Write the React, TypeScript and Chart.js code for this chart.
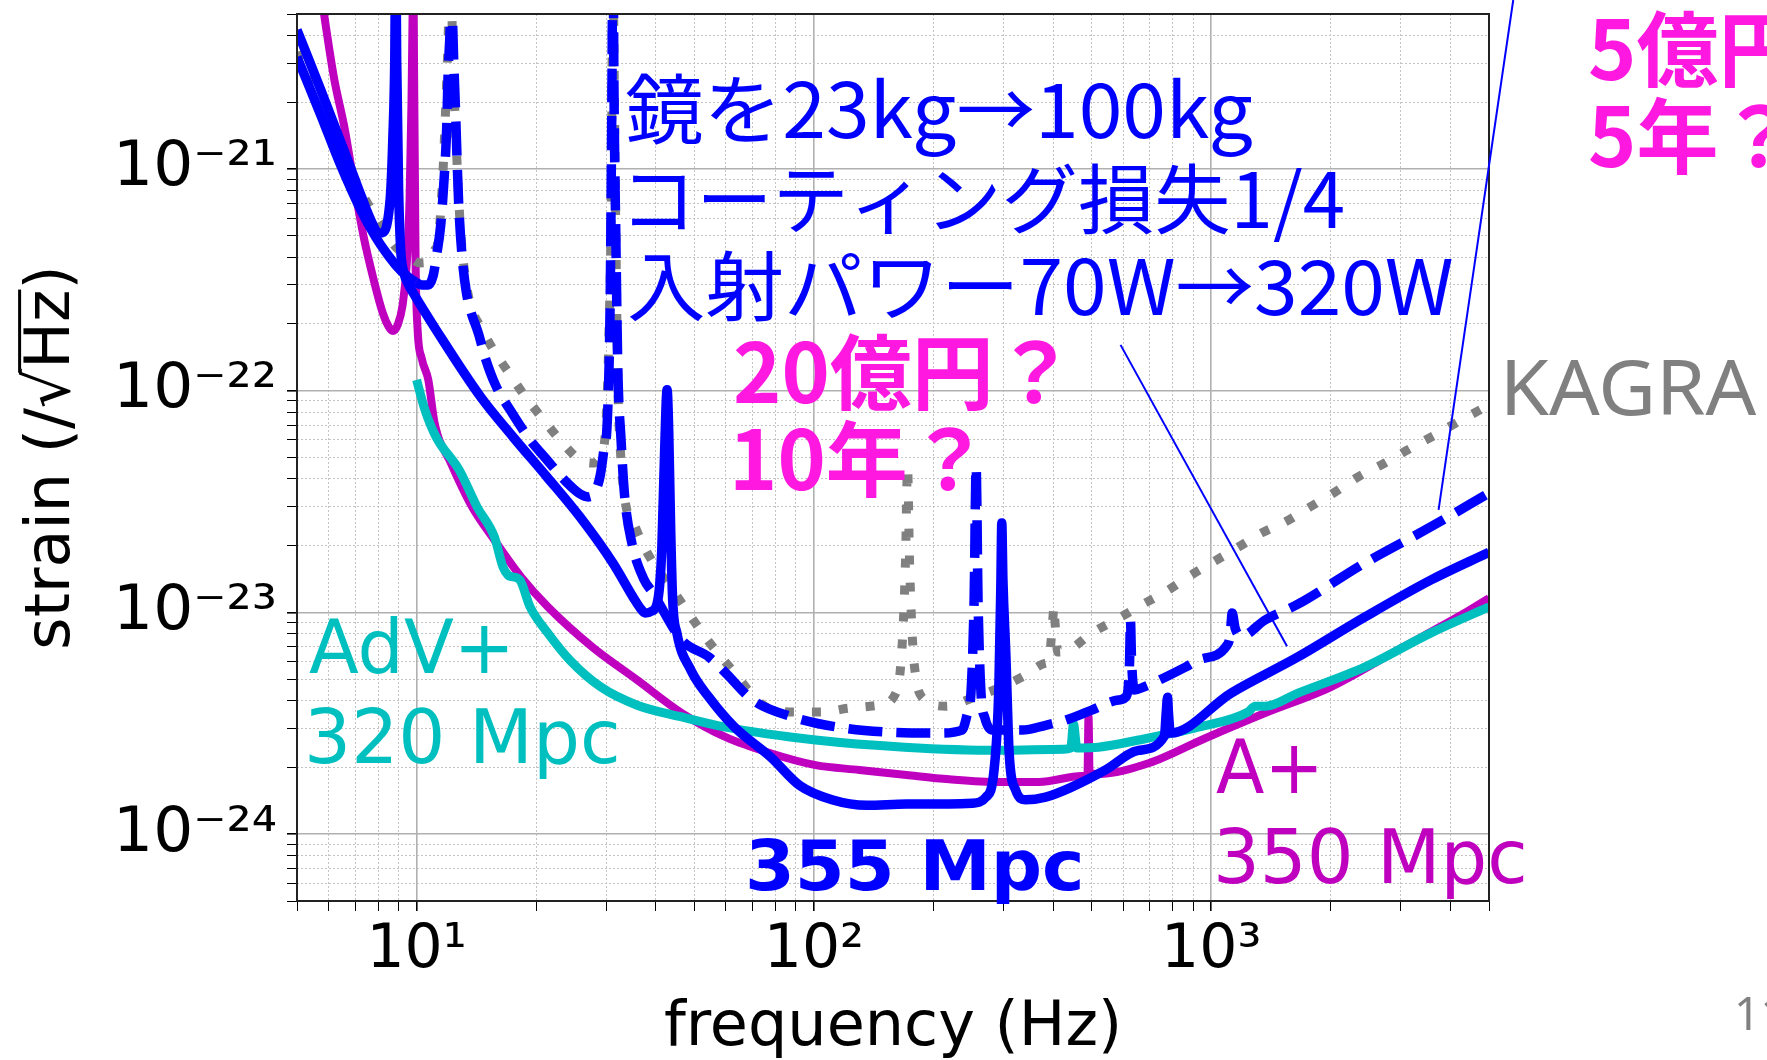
import React, { useEffect, useRef } from 'react';
import { Chart, registerables } from 'chart.js';

Chart.register(...registerables);

// ---------- axes ----------
const X_MIN = 5;
const X_MAX = 5000;
const Y_MIN = 5e-25;
const Y_MAX = 5e-21;
const X_MAJOR = [10, 100, 1000];
const X_LABELS = ['10¹', '10²', '10³'];
const Y_MAJOR = [1e-24, 1e-23, 1e-22, 1e-21];
const Y_LABELS = ['10⁻²⁴', '10⁻²³', '10⁻²²', '10⁻²¹'];

// ---------- series: [frequency (Hz), strain (/rtHz)] ----------
const APLUS: [number, number][] = [
  [5.68, 7.1e-21], [6.19, 2.6e-21], [6.6, 1.5e-21], [6.95, 8.65e-22], [7.36, 4.93e-22], [7.8, 3.16e-22],
  [8.22, 2.24e-22], [8.51, 1.94e-22], [8.71, 1.86e-22], [8.96, 1.98e-22], [9.22, 2.43e-22], [9.44, 3.69e-22],
  [9.6, 7.24e-22], [9.71, 2.05e-21], [9.77, 5.0e-21], [9.8, 1e-20], [9.83, 5.0e-21], [9.89, 1.22e-21],
  [9.94, 3.89e-22], [10.06, 1.88e-22], [10.3, 1.4e-22], [10.7, 1.12e-22], [11.1, 7.15e-23], [12.2, 4.72e-23],
  [13.8, 2.99e-23], [15.7, 2.12e-23], [18.3, 1.45e-23], [21.4, 1.06e-23], [27.7, 6.98e-24], [35.9, 4.96e-24],
  [46.5, 3.52e-24], [60.0, 2.74e-24], [77.8, 2.32e-24], [101, 2.05e-24], [130, 1.95e-24], [171, 1.85e-24],
  [219, 1.77e-24], [292, 1.72e-24], [368, 1.72e-24], [472, 1.83e-24], [488, 1.86e-24], [491, 3.4e-24],
  [494, 1.88e-24], [520, 1.87e-24], [695, 2.09e-24], [966, 2.71e-24], [1366, 3.52e-24], [2000, 4.61e-24],
  [2946, 6.77e-24], [4342, 9.94e-24], [5000, 1.16e-23],
];

const ADVPLUS: [number, number][] = [
  [10.0, 1.12e-22], [10.5, 8.18e-23], [11.2, 6.18e-23], [12.8, 4.39e-23], [14.2, 2.99e-23], [15.7, 2.19e-23],
  [16.5, 1.6e-23], [17.0, 1.47e-23], [17.4, 1.45e-23], [18.2, 1.4e-23], [19.3, 1.06e-23], [21.4, 8.07e-24],
  [24.3, 6.1e-24], [29.1, 4.61e-24], [35.9, 3.82e-24], [46.5, 3.38e-24], [60.0, 3.04e-24], [101, 2.66e-24],
  [169, 2.47e-24], [292, 2.39e-24], [425, 2.42e-24], [443, 2.45e-24], [450, 3.14e-24], [459, 2.45e-24],
  [520, 2.47e-24], [656, 2.66e-24], [927, 3.04e-24], [1238, 3.56e-24], [1289, 3.78e-24], [1366, 3.78e-24],
  [1652, 4.33e-24], [2432, 5.67e-24], [3565, 8.07e-24], [5000, 1.06e-23],
];

const KAGRA: [number, number][] = [
  [5.0, 3.37e-21], [5.74, 1.95e-21], [6.44, 1.18e-21], [6.9, 9.4e-22], [7.45, 7.24e-22], [8.13, 5.59e-22],
  [8.86, 4.45e-22], [9.66, 3.97e-22], [10.2, 3.77e-22], [10.7, 3.81e-22], [11.1, 4.31e-22], [11.3, 4.63e-22],
  [11.6, 8.29e-22], [11.8, 1.66e-21], [12.0, 3.82e-21], [12.17, 1e-20], [12.31, 3.82e-21], [12.6, 1.22e-21],
  [12.9, 5.31e-22], [13.35, 3.0e-22], [13.8, 2.31e-22], [14.5, 1.94e-22], [15.6, 1.53e-22], [17.2, 1.18e-22],
  [18.8, 9.37e-23], [20.7, 7.53e-23], [23.2, 5.87e-23], [25.8, 4.87e-23], [27.7, 4.72e-23], [29.1, 5.13e-23],
  [30.0, 7.38e-23], [30.5, 1.88e-22], [30.9, 7.24e-22], [31.2, 1e-20], [31.4, 3.1e-21], [31.76, 4.31e-22],
  [32.1, 1.08e-22], [32.5, 5.81e-23], [33.4, 3.28e-23], [35.5, 2.43e-23], [38.0, 1.87e-23], [45.9, 1.14e-23],
  [50.1, 9.06e-24], [54.7, 7.28e-24], [61.4, 5.67e-24], [76.0, 3.74e-24], [90.4, 3.56e-24], [105, 3.56e-24],
  [124, 3.71e-24], [146, 3.82e-24], [162, 4.47e-24], [167, 7.51e-24], [170, 1.72e-23], [172, 4.53e-23],
  [174, 1.72e-23], [177, 7.51e-24], [181, 4.96e-24], [187, 4.15e-24], [215, 3.78e-24], [253, 4.15e-24],
  [292, 4.56e-24], [334, 5.12e-24], [383, 5.91e-24], [390, 6.04e-24], [399, 9.25e-24], [402, 1.07e-23],
  [404, 9.25e-24], [411, 6.63e-24], [438, 6.77e-24], [500, 8.07e-24], [574, 9.25e-24], [667, 1.08e-23],
  [767, 1.24e-23], [876, 1.45e-23], [1011, 1.69e-23], [1169, 1.97e-23], [1335, 2.28e-23], [1534, 2.56e-23],
  [1771, 2.99e-23], [2047, 3.49e-23], [2337, 4.08e-23], [2733, 4.72e-23], [3120, 5.41e-23], [3650, 6.31e-23],
  [4169, 7.23e-23], [5000, 8.62e-23],
];

const UPGRADE_DASHED: [number, number][] = [
  [5.0, 3.2e-21], [5.74, 1.75e-21], [6.44, 1.04e-21], [7.24, 6.53e-22], [7.89, 4.93e-22], [8.36, 4.22e-22],
  [8.86, 3.69e-22], [9.38, 3.33e-22], [9.94, 3.09e-22], [10.3, 3.0e-22], [10.7, 3.0e-22], [11.0, 3.29e-22],
  [11.2, 3.97e-22], [11.5, 5.59e-22], [11.7, 8.47e-22], [11.9, 1.5e-21], [12.0, 2.65e-21], [12.17, 5.0e-21],
  [12.24, 1e-20], [12.31, 5.0e-21], [12.53, 1.84e-21], [12.75, 7.24e-22], [13.04, 3.89e-22], [13.35, 2.76e-22],
  [13.66, 2.31e-22], [14.3, 1.82e-22], [14.9, 1.4e-22], [15.8, 1.06e-22], [17.2, 8.18e-23], [19.3, 6.0e-23],
  [21.1, 4.97e-23], [23.8, 3.88e-23], [25.8, 3.42e-23], [27.0, 3.32e-23], [28.1, 3.49e-23], [29.0, 4.17e-23],
  [29.6, 5.41e-23], [30.2, 7.38e-23], [30.7, 2.56e-22], [31.0, 2.05e-21], [31.2, 1e-20], [31.4, 2.05e-21],
  [31.76, 4.31e-22], [32.1, 1.24e-22], [32.7, 6.0e-23], [33.4, 3.32e-23], [34.8, 2.06e-23], [37.2, 1.43e-23],
  [39.4, 1.22e-23], [46.5, 7.51e-24], [54.4, 6.3e-24], [60.0, 5.33e-24], [70.1, 4.03e-24], [88.3, 3.38e-24],
  [115, 3.04e-24], [152, 2.89e-24], [206, 2.86e-24], [236, 2.95e-24], [242.7, 3.44e-24], [248.4, 4.33e-24],
  [253, 1.14e-23], [256, 4.53e-23], [258.8, 1.14e-23], [263.3, 4.33e-24], [269.4, 3.34e-24], [281, 2.95e-24],
  [334, 2.95e-24], [383, 3.1e-24], [430, 3.27e-24], [500, 3.63e-24], [584, 4.03e-24], [612, 4.2e-24],
  [623, 6.1e-24], [626, 9.25e-24], [630, 6.1e-24], [641, 4.47e-24], [675, 4.61e-24], [861, 5.67e-24],
  [927, 6.1e-24], [1091, 7.05e-24], [1116, 7.91e-24], [1129, 9.94e-24], [1148, 8.51e-24], [1189, 7.83e-24],
  [1366, 9.25e-24], [1652, 1.09e-23], [2432, 1.67e-23], [3565, 2.43e-23], [5000, 3.46e-23],
];

const UPGRADE_SOLID: [number, number][] = [
  [5.0, 4.24e-21], [5.74, 2.27e-21], [6.63, 1.16e-21], [7.32, 7.24e-22], [7.67, 5.89e-22], [8.03, 5.14e-22],
  [8.26, 5.19e-22], [8.46, 5.89e-22], [8.61, 8.04e-22], [8.71, 1.35e-21], [8.81, 3.1e-21], [8.86, 1e-20],
  [8.91, 3.1e-21], [9.01, 8.04e-22], [9.12, 4.31e-22], [9.28, 3.43e-22], [9.55, 3.0e-22], [9.77, 2.79e-22],
  [11.2, 1.88e-22], [14.5, 9.37e-23], [17.5, 6.18e-23], [21.3, 4.08e-23], [25.8, 2.69e-23], [31.2, 1.67e-23],
  [35.1, 1.17e-23], [36.5, 1.05e-23], [37.6, 9.94e-24], [38.9, 1.01e-23], [40.3, 1.1e-23], [40.9, 1.33e-23],
  [41.4, 1.91e-23], [42.1, 5.41e-23], [42.7, 1.01e-22], [43.1, 6.65e-23], [43.6, 2.35e-23], [44.1, 1.14e-23],
  [45.2, 8.07e-24], [49.0, 5.5e-24], [54.4, 4.15e-24], [63.1, 3.04e-24], [77.8, 2.23e-24], [92.0, 1.66e-24],
  [111, 1.43e-24], [136, 1.35e-24], [171, 1.37e-24], [219, 1.37e-24], [250, 1.38e-24], [271, 1.47e-24],
  [284, 1.95e-24], [292, 4.61e-24], [295.5, 1.4e-23], [297, 2.53e-23], [299, 1.4e-23], [304, 6.56e-24],
  [310, 2.32e-24], [322, 1.58e-24], [341, 1.43e-24], [383, 1.47e-24], [445, 1.63e-24], [542, 1.95e-24],
  [656, 2.39e-24], [762, 2.77e-24], [771, 3.63e-24], [776, 4.15e-24], [780, 3.56e-24], [789, 2.86e-24],
  [1122, 4.33e-24], [1652, 6.3e-24], [2432, 9.53e-24], [3565, 1.4e-23], [5000, 1.87e-23],
];

// pointer lines from the notes to the curves: [freq, strain] start and end
const POINTER_1: [number, number][] = [[591, 1.61e-22], [1551, 7.05e-24]];
const POINTER_2: [number, number][] = [[5754, 5.78e-21], [3733, 2.9e-23]];

// ---------- styles ----------
const BLUE = '#0000ff';
const MAGENTA = '#bf00bf';
const CYAN = '#00bfbf';
const GRAY = '#808080';
const PINK = '#ff19e0';
const JP = '"Noto Sans CJK JP"';
const DV = '"DejaVu Sans"';

type Note = { text: string; x: number; y: number; font: string; color: string; w?: number };
const NOTES: Note[] = [
  { text: '鏡を23kg→100kg', x: 626, y: 138, font: `76px ${JP}`, color: BLUE, w: 626 },
  { text: 'コーティング損失1/4', x: 632, y: 228, font: `76px ${JP}`, color: BLUE, w: 711 },
  { text: '入射パワー70W→320W', x: 629, y: 315, font: `76px ${JP}`, color: BLUE, w: 823 },
  { text: '20億円？', x: 735, y: 403, font: `bold 82px ${JP}`, color: PINK },
  { text: '10年？', x: 735, y: 490, font: `bold 82px ${JP}`, color: PINK },
  { text: '5億円？', x: 1590, y: 80, font: `bold 82px ${JP}`, color: PINK },
  { text: '5年？', x: 1590, y: 167, font: `bold 82px ${JP}`, color: PINK },
  { text: 'KAGRA', x: 1507, y: 415, font: '77px "Noto Sans"', color: GRAY, w: 250 },
  { text: 'AdV+', x: 309, y: 673, font: `74px ${DV}`, color: CYAN, w: 199 },
  { text: '320 Mpc', x: 309, y: 763, font: `74px ${DV}`, color: CYAN, w: 308 },
  { text: '355 Mpc', x: 749, y: 890, font: `bold 70px ${DV}`, color: BLUE, w: 331 },
  { text: 'A+', x: 1216, y: 793, font: `74px ${DV}`, color: MAGENTA, w: 101 },
  { text: '350 Mpc', x: 1218, y: 883, font: `74px ${DV}`, color: MAGENTA, w: 306 },
  { text: '11', x: 1738, y: 1030, font: '46px "Noto Sans"', color: GRAY },
];

const Y_TITLE = 'strain (/√Hz)';
const X_TITLE = 'frequency (Hz)';
const TITLE_SIZE = 62;
const Y_TITLE_PAD = 22;

const isMajor = (v: number) => Math.abs(Math.log10(v) - Math.round(Math.log10(v))) < 1e-6;

function logTicks(lo: number, hi: number) {
  const out: { value: number }[] = [];
  for (let e = Math.floor(Math.log10(lo)) - 1; e <= Math.ceil(Math.log10(hi)); e++) {
    for (let m = 1; m < 10; m++) {
      const v = m * Math.pow(10, e);
      if (v >= lo * 0.9999 && v <= hi * 1.0001) out.push({ value: v });
    }
  }
  return out;
}

function labelFor(value: number, majors: number[], labels: string[]) {
  const i = majors.findIndex((m) => Math.abs(Math.log10(value / m)) < 1e-6);
  return i >= 0 ? labels[i] : '';
}

const toXY = (arr: [number, number][]) => arr.map(([x, y]) => ({ x, y }));

const gridOpts = {
  color: (c: any) => (c.tick && isMajor(c.tick.value) ? '#b0b0b0' : '#c4c4c4'),
  lineWidth: (c: any) => (c.tick && isMajor(c.tick.value) ? 1.6 : 1),
  tickColor: '#000',
  tickWidth: (c: any) => (c.tick && isMajor(c.tick.value) ? 1.6 : 1),
  tickLength: 10,
  drawTicks: true,
};
const borderOpts = {
  display: false,
  dash: (c: any) => (c.tick && !isMajor(c.tick.value) ? [2, 2] : []),
};

const overlay = {
  id: 'overlay',
  afterDatasetsDraw(chart: any) {
    const { ctx, chartArea: a } = chart;
    ctx.save();
    ctx.strokeStyle = '#222';
    ctx.lineWidth = 2;
    ctx.strokeRect(a.left, a.top, a.right - a.left, a.bottom - a.top);
    ctx.restore();
  },
  afterDraw(chart: any) {
    const { ctx, chartArea: a } = chart;
    const xs = chart.scales.x;
    const ys = chart.scales.y;
    ctx.save();
    // pointer lines
    ctx.strokeStyle = BLUE;
    ctx.lineWidth = 2;
    for (const p of [POINTER_1, POINTER_2]) {
      ctx.beginPath();
      ctx.moveTo(xs.getPixelForValue(p[0][0]), ys.getPixelForValue(p[0][1]));
      ctx.lineTo(xs.getPixelForValue(p[1][0]), ys.getPixelForValue(p[1][1]));
      ctx.stroke();
    }
    // notes
    ctx.textAlign = 'left';
    ctx.textBaseline = 'alphabetic';
    for (const n of NOTES) {
      ctx.font = n.font;
      ctx.fillStyle = n.color;
      const m = ctx.measureText(n.text);
      const ink = m.actualBoundingBoxLeft + m.actualBoundingBoxRight;
      let sx = n.w ? n.w / ink : 1;
      sx = Math.max(0.8, Math.min(1.25, sx));
      ctx.save();
      ctx.translate(n.x + m.actualBoundingBoxLeft * sx, n.y);
      ctx.scale(sx, 1);
      ctx.fillText(n.text, 0, 0);
      ctx.restore();
    }
    // overline of the square root in the y title
    ctx.font = `${TITLE_SIZE}px ${DV}`;
    ctx.textBaseline = 'middle';
    const W = ctx.measureText(Y_TITLE).width;
    const pre = ctx.measureText('strain (/').width;
    const root = ctx.measureText('√');
    const end = ctx.measureText('strain (/√Hz').width;
    const cx = TITLE_SIZE / 2 + Y_TITLE_PAD;
    const cy = (a.top + a.bottom) / 2;
    const lx = cx - root.actualBoundingBoxAscent + 1.5;
    ctx.strokeStyle = '#000';
    ctx.lineWidth = 3;
    ctx.beginPath();
    ctx.moveTo(lx, cy + W / 2 - pre - root.width * 0.9);
    ctx.lineTo(lx, cy + W / 2 - end);
    ctx.stroke();
    ctx.restore();
  },
};

export default function App() {
  const ref = useRef<HTMLCanvasElement>(null);

  useEffect(() => {
    const canvas = ref.current;
    if (!canvas) return;
    const common = {
      pointRadius: 0,
      fill: false,
      clip: 0,
      cubicInterpolationMode: 'monotone' as const,
      borderJoinStyle: 'round' as const,
      capBezierPoints: false,
    };
    const chart = new Chart(canvas, {
      type: 'line',
      data: {
        datasets: [
          { ...common, label: '355 Mpc', data: toXY(UPGRADE_SOLID), borderColor: BLUE, borderWidth: 9.5 },
          {
            ...common,
            label: 'upgrade (dashed)',
            data: toXY(UPGRADE_DASHED),
            borderColor: BLUE,
            borderWidth: 9.5,
            borderDash: [34, 14],
            borderCapStyle: 'butt',
            segment: { borderDash: (c: any) => (c.p0.parsed.x < 9.5 ? [] : undefined) },
          },
          {
            ...common,
            label: 'KAGRA',
            data: toXY(KAGRA),
            borderColor: GRAY,
            borderWidth: 9,
            borderDash: [9, 18],
            borderCapStyle: 'butt',
          },
          { ...common, label: 'AdV+', data: toXY(ADVPLUS), borderColor: CYAN, borderWidth: 9 },
          { ...common, label: 'A+', data: toXY(APLUS), borderColor: MAGENTA, borderWidth: 8 },
        ],
      },
      options: {
        responsive: false,
        animation: false,
        devicePixelRatio: 1,
        layout: { padding: { left: 0, right: 278, top: 14, bottom: 0 } },
        plugins: { legend: { display: false }, tooltip: { enabled: false } },
        scales: {
          x: {
            type: 'logarithmic',
            min: X_MIN,
            max: X_MAX,
            afterBuildTicks: (s: any) => {
              s.ticks = logTicks(X_MIN, X_MAX);
            },
            afterFit: (s: any) => {
              s.height = 159;
              s.paddingLeft = 0;
              s.paddingRight = 0;
            },
            ticks: {
              autoSkip: false,
              maxRotation: 0,
              minRotation: 0,
              padding: 4,
              color: '#000',
              font: { family: 'DejaVu Sans', size: 60 },
              callback: (v: any) => labelFor(Number(v), X_MAJOR, X_LABELS),
            },
            grid: gridOpts,
            border: borderOpts,
            title: {
              display: true,
              text: X_TITLE,
              color: '#000',
              font: { family: 'DejaVu Sans', size: TITLE_SIZE, lineHeight: 1 },
              padding: { top: 0, bottom: 0 },
            },
          },
          y: {
            type: 'logarithmic',
            min: Y_MIN,
            max: Y_MAX,
            afterBuildTicks: (s: any) => {
              s.ticks = logTicks(Y_MIN, Y_MAX);
            },
            afterFit: (s: any) => {
              s.width = 297;
              s.paddingTop = 0;
              s.paddingBottom = 0;
            },
            ticks: {
              autoSkip: false,
              padding: 10,
              color: '#000',
              font: { family: 'DejaVu Sans', size: 63 },
              callback: (v: any) => labelFor(Number(v), Y_MAJOR, Y_LABELS),
            },
            grid: gridOpts,
            border: borderOpts,
            title: {
              display: true,
              text: Y_TITLE,
              color: '#000',
              font: { family: 'DejaVu Sans', size: TITLE_SIZE, lineHeight: 1 },
              padding: { top: Y_TITLE_PAD, bottom: 0 },
            },
          },
        },
      } as any,
      plugins: [overlay],
    });
    return () => chart.destroy();
  }, []);

  return (
    <div style={{ position: 'fixed', left: 0, top: 0, width: 1767, height: 1060, background: '#ffffff' }}>
      <canvas ref={ref} width={1767} height={1060} style={{ display: 'block', width: 1767, height: 1060 }} />
    </div>
  );
}
